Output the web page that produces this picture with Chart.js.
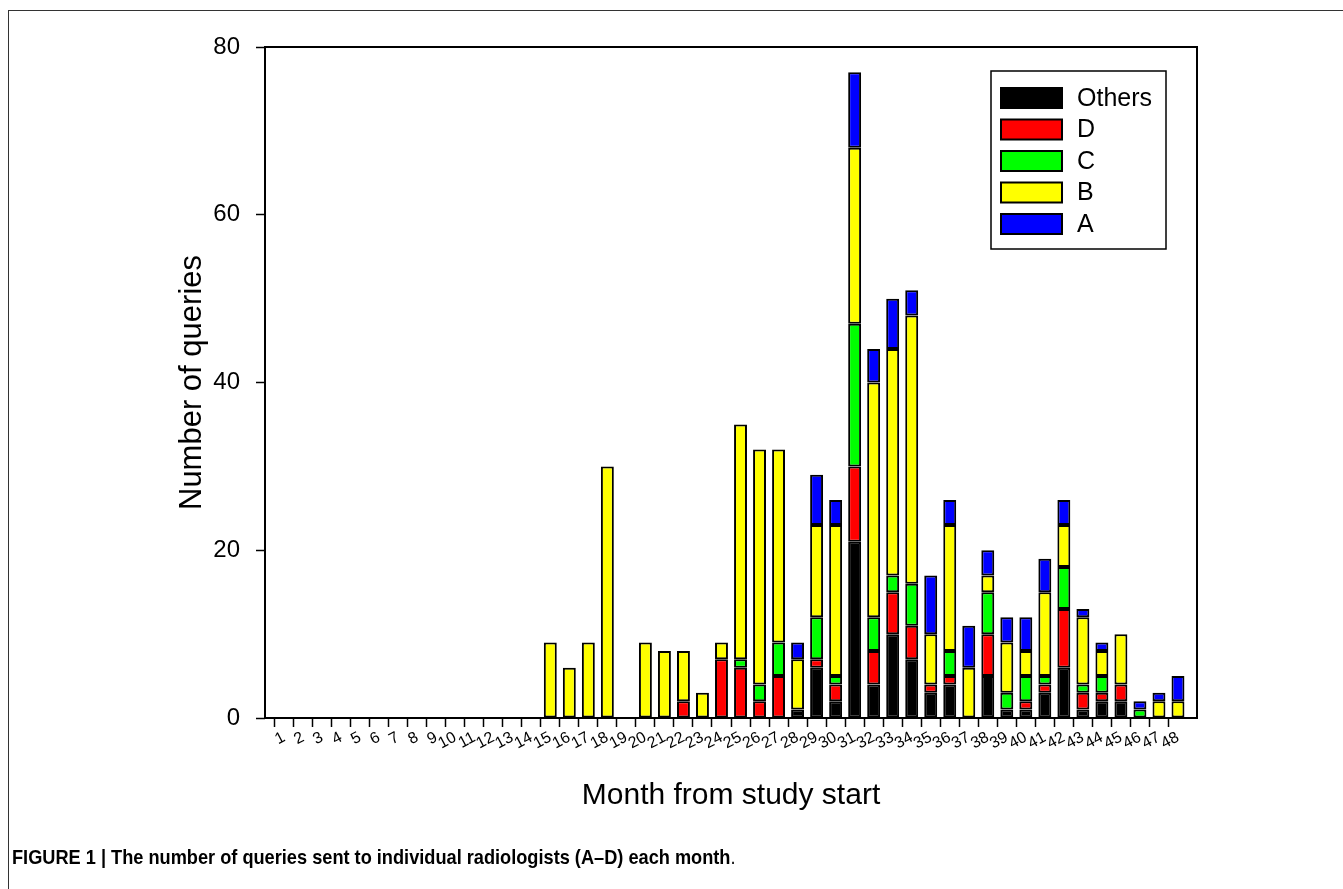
<!DOCTYPE html>
<html>
<head>
<meta charset="utf-8">
<script src="https://cdn.jsdelivr.net/npm/chart.js@4.4.1/dist/chart.umd.min.js"></script>
<style>
  html, body { margin: 0; padding: 0; background: #fff; overflow: hidden; }
  #wrap { position: absolute; left: 0; top: 0; width: 1343px; height: 889px; }
  #frame { position: absolute; left: 8px; top: 10px; width: 1400px; height: 900px; border-left: 1px solid #333; border-top: 1px solid #333; }
  #caption { position: absolute; left: 12px; top: 845px; font: bold 21px "Liberation Sans", Arial, sans-serif; white-space: nowrap; transform: scaleX(0.866); transform-origin: 0 0; color: #000; }
  #caption span { font-weight: normal; }
</style>
</head>
<body>
<div id="wrap">
  <div id="frame"></div>
  <canvas id="chart"></canvas>
  <div id="caption">FIGURE 1 | The number of queries sent to individual radiologists (A–D) each month<span>.</span></div>
</div>
<script>
// months 1..48
const months = [1,2,3,4,5,6,7,8,9,10,11,12,13,14,15,16,17,18,19,20,21,22,23,24,
                25,26,27,28,29,30,31,32,33,34,35,36,37,38,39,40,41,42,43,44,45,46,47,48];

// values, stacked bottom -> top: Others, D, C, B, A
const others = [0,0,0,0,0,0,0,0,0,0,0,0,0,0, 0,0,0,0,0,0,0,0,0,0,0,0,0,
                1,6,2,21,4,10,7,3,4,0,5,1,1,3,6,1,2,2,0,0,0];
const radD   = [0,0,0,0,0,0,0,0,0,0,0,0,0,0,0,0,0,0,0,0,0,
                2,0,7,6,2,5,0,1,2,9,4,5,4,1,1,0,5,0,1,1,7,2,1,2,0,0,0];
const radC   = [0,0,0,0,0,0,0,0,0,0,0,0,0,0,0,0,0,0,0,0,0,0,0,0,
                1,2,4,0,5,1,17,4,2,5,0,3,0,5,2,3,1,5,1,2,0,1,0,0];
const radB   = [0,0,0,0,0,0,0,0,0,0,0,0,0,0,
                9,6,9,30,0,9,8,6,3,2,28,28,23,6,11,18,21,28,27,32,6,15,6,2,6,3,10,5,8,3,6,0,2,2];
const radA   = [0,0,0,0,0,0,0,0,0,0,0,0,0,0,0,0,0,0,0,0,0,0,0,0,0,0,0,
                2,6,3,9,4,6,3,7,3,5,3,3,4,4,3,1,1,0,1,1,3];

const yTicks = [0, 20, 40, 60, 80];

const series = [
  { label: 'Others', data: others, color: '#000000' },
  { label: 'D', data: radD, color: '#ff0000' },
  { label: 'C', data: radC, color: '#00ff00' },
  { label: 'B', data: radB, color: '#ffff00' },
  { label: 'A', data: radA, color: '#0000ff' }
];

const FONT = "'Liberation Sans', Arial, sans-serif";

// one empty slot at each end so month 1 and 48 sit a full step in from the frame
const labels = [''].concat(months.map(String), ['']);
const pad = arr => [null].concat(arr.map(v => v === 0 ? null : v), [null]);

const boxAndLegend = {
  id: 'boxAndLegend',
  afterDatasetsDraw(chart) {
    const { ctx, chartArea: a } = chart;
    ctx.save();
    ctx.strokeStyle = '#000';
    ctx.lineWidth = 2;
    ctx.strokeRect(a.left, a.top, a.right - a.left, a.bottom - a.top);

    // legend box, top right inside the plot
    const lx = a.right - 206, ly = a.top + 24, lw = 175, lh = 178;
    ctx.fillStyle = '#fff';
    ctx.fillRect(lx, ly, lw, lh);
    ctx.lineWidth = 1.5;
    ctx.strokeRect(lx, ly, lw, lh);
    ctx.font = '25px ' + FONT;
    ctx.textBaseline = 'middle';
    chart.data.datasets.forEach((ds, i) => {
      const cy = ly + 27 + i * 31.5;
      ctx.fillStyle = ds.backgroundColor;
      ctx.fillRect(lx + 10, cy - 10, 61, 20);
      ctx.strokeStyle = '#000';
      ctx.lineWidth = 2;
      ctx.strokeRect(lx + 10, cy - 10, 61, 20);
      ctx.fillStyle = '#000';
      ctx.fillText(ds.label, lx + 86, cy + 1);
    });
    ctx.restore();
  }
};

new Chart(document.getElementById('chart'), {
  type: 'bar',
  data: {
    labels: labels,
    datasets: series.map(s => ({
      label: s.label,
      data: pad(s.data),
      backgroundColor: s.color,
      borderColor: '#000',
      borderWidth: 2,
      borderSkipped: false,
      categoryPercentage: 1,
      barPercentage: 0.68
    }))
  },
  options: {
    responsive: true,
    maintainAspectRatio: false,
    animation: false,
    layout: { padding: { left: 0, top: 47, right: 146, bottom: 0 } },
    plugins: { legend: { display: false }, tooltip: { enabled: false } },
    scales: {
      x: {
        stacked: true,
        offset: false,
        grid: { drawOnChartArea: false, drawTicks: true, tickLength: 9, tickWidth: 1.5,
                tickColor: c => (c.index === 0 || c.index === labels.length - 1) ? 'rgba(0,0,0,0)' : '#000' },
        border: { display: false },
        ticks: { autoSkip: false, minRotation: 28, maxRotation: 28, padding: 1, color: '#000',
                 font: { family: FONT, size: 16 } },
        title: { display: true, text: 'Month from study start', color: '#000',
                 font: { family: FONT, size: 30 }, padding: { top: 0, bottom: 75 } },
        afterFit: s => { s.height = 171; }
      },
      y: {
        stacked: true,
        min: yTicks[0],
        max: yTicks[yTicks.length - 1],
        afterBuildTicks: s => { s.ticks = yTicks.map(v => ({ value: v })); },
        grid: { drawOnChartArea: false, drawTicks: true, tickLength: 9, tickWidth: 1.5, tickColor: '#000' },
        border: { display: false },
        ticks: { padding: 16, color: '#000', font: { family: FONT, size: 24 } },
        title: { display: true, text: 'Number of queries', color: '#000',
                 font: { family: FONT, size: 31 }, padding: { top: 174, bottom: 0 } },
        afterFit: s => { s.width = 265; }
      }
    }
  },
  plugins: [boxAndLegend]
});
</script>
</body>
</html>
